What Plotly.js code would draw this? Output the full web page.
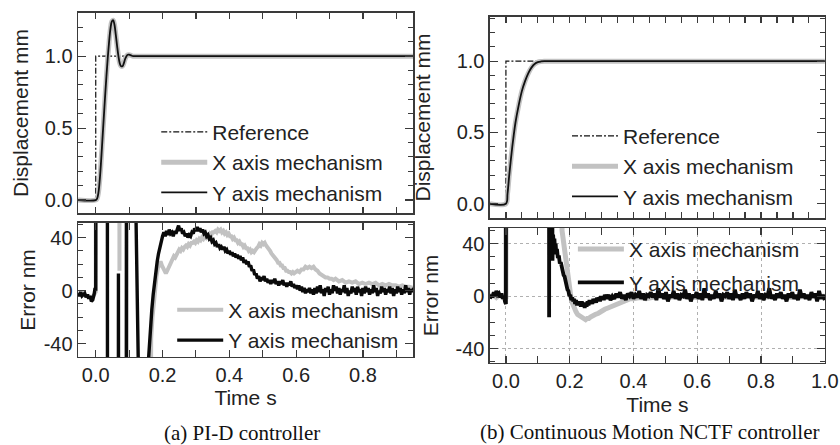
<!DOCTYPE html>
<html>
<head>
<meta charset="utf-8">
<script src="https://cdn.plot.ly/plotly-3.0.1.min.js"></script>
<style>
html,body{margin:0;padding:0;background:#fff;}
#chart{width:840px;height:445px;}
</style>
</head>
<body>
<div id="chart"></div>
<script>
// ---------- (a) PI-D controller : displacement ----------
var tRefA = [-0.053, 0.000, 0.000, 0.950];
var yRefA = [0, 0, 1, 1];
var tDispA = [-0.053, 0.000, 0.004, 0.008, 0.012, 0.016, 0.020, 0.024, 0.028, 0.032,
  0.036, 0.040, 0.044, 0.048, 0.052, 0.056, 0.060, 0.064, 0.068, 0.072,
  0.076, 0.080, 0.084, 0.088, 0.092, 0.096, 0.100, 0.106, 0.112, 0.120, 0.950];
var dispAX = [0, 0, 0.01, 0.05, 0.14, 0.27, 0.42, 0.57, 0.72, 0.86,
  0.99, 1.10, 1.19, 1.24, 1.25, 1.22, 1.15, 1.07, 1.00, 0.95,
  0.93, 0.93, 0.95, 0.98, 1.00, 1.01, 1.01, 1.005, 1.0, 1.0, 1.0];
var dispAY = [0, 0, 0.01, 0.05, 0.14, 0.27, 0.42, 0.57, 0.72, 0.86,
  0.99, 1.10, 1.19, 1.24, 1.25, 1.22, 1.15, 1.07, 1.00, 0.95,
  0.93, 0.93, 0.95, 0.98, 1.00, 1.01, 1.01, 1.005, 1.0, 1.0, 1.0];

// ---------- (a) PI-D controller : error ----------
var tErrAX = [-0.053, -0.045, -0.037, -0.029, -0.021, -0.013, -0.005, 0.000,
  0.001, 0.070, 0.071, 0.072, 0.091, 0.093, 0.160,
  0.163, 0.166, 0.170, 0.174, 0.178, 0.182, 0.186, 0.190, 0.194, 0.198,
  0.202, 0.206, 0.210, 0.214, 0.218, 0.222, 0.226, 0.230, 0.234, 0.238,
  0.242, 0.246, 0.250, 0.254, 0.258, 0.262, 0.266, 0.270, 0.274, 0.278,
  0.282, 0.286, 0.290, 0.294, 0.298, 0.302, 0.306, 0.310, 0.314, 0.318,
  0.322, 0.326, 0.330, 0.334, 0.338, 0.342, 0.346, 0.350, 0.354, 0.358,
  0.362, 0.366, 0.370, 0.374, 0.378, 0.382, 0.386, 0.390, 0.394, 0.398,
  0.402, 0.406, 0.410, 0.414, 0.418, 0.422, 0.426, 0.430, 0.434, 0.438,
  0.442, 0.446, 0.450, 0.454, 0.458, 0.462, 0.466, 0.470, 0.474, 0.478,
  0.482, 0.486, 0.490, 0.494, 0.498, 0.502, 0.506, 0.510, 0.514, 0.518,
  0.522, 0.526, 0.530, 0.534, 0.538, 0.542, 0.546, 0.550, 0.554, 0.558,
  0.562, 0.566, 0.570, 0.574, 0.578, 0.582, 0.586, 0.590, 0.594, 0.598,
  0.604, 0.610, 0.616, 0.622, 0.628, 0.634, 0.640, 0.646, 0.652, 0.658,
  0.664, 0.670, 0.676, 0.682, 0.688, 0.694, 0.700, 0.706, 0.712, 0.718,
  0.728, 0.738, 0.748, 0.758, 0.768, 0.778, 0.788, 0.798, 0.808, 0.818,
  0.828, 0.838, 0.848, 0.858, 0.868, 0.878, 0.888, 0.898, 0.908, 0.918,
  0.928, 0.938, 0.952];
var errAX = [-1, -3, -2, -4, -4, -6, -3, -1,
  500, 500, 15, 500, 500, -500, -500,
  -50, -36, -20, -7, 3, 11, 17, 21, 22, 19,
  17, 15, 13, 15, 17, 20, 22, 24, 26, 25,
  28, 29, 31, 30, 32, 31, 33, 34, 33, 35,
  34, 36, 36, 37, 36, 38, 37, 39, 38, 40,
  39, 41, 40, 42, 41, 43, 42, 44, 44, 45,
  44, 46, 45, 46, 44, 45, 43, 44, 42, 43,
  41, 41, 39, 40, 38, 38, 36, 37, 35, 35,
  33, 34, 32, 32, 30, 31, 29, 30, 29, 31,
  32, 33, 35, 34, 36, 35, 36, 34, 33, 31,
  30, 28, 27, 25, 24, 23, 21, 21, 19, 19,
  17, 17, 15, 15, 14, 14, 13, 14, 13, 14,
  15, 14, 16, 16, 18, 17, 18, 17, 18, 16,
  15, 13, 12, 11, 10, 10, 9, 9, 8, 9,
  7, 8, 6, 7, 6, 7, 5, 6, 5, 6,
  5, 6, 4, 5, 4, 5, 4, 4, 3, 4,
  3, 3, 2];
var tErrAY = [-0.053, -0.049, -0.045, -0.041, -0.037, -0.033, -0.029, -0.025, -0.021, -0.017,
  -0.013, -0.009, -0.005, -0.002, 0.000,
  0.001, 0.034, 0.036, 0.067, 0.068, 0.069, 0.091, 0.093, 0.096, 0.155,
  0.158, 0.161, 0.164, 0.168, 0.172, 0.176, 0.180, 0.184, 0.188, 0.192, 0.196, 0.200,
  0.204, 0.208, 0.212, 0.216, 0.220, 0.224, 0.228, 0.232, 0.236, 0.240,
  0.244, 0.248, 0.252, 0.256, 0.260, 0.264, 0.268, 0.272, 0.276, 0.280,
  0.284, 0.288, 0.292, 0.296, 0.300, 0.304, 0.308, 0.312, 0.316, 0.320,
  0.324, 0.328, 0.332, 0.336, 0.340, 0.344, 0.348, 0.352, 0.356, 0.360,
  0.364, 0.368, 0.372, 0.376, 0.380, 0.384, 0.388, 0.392, 0.396, 0.400,
  0.404, 0.408, 0.412, 0.416, 0.420, 0.424, 0.428, 0.432, 0.436, 0.440,
  0.444, 0.448, 0.452, 0.456, 0.460, 0.464, 0.468, 0.472, 0.476, 0.480,
  0.484, 0.488, 0.492, 0.496, 0.500, 0.504, 0.508, 0.512, 0.516, 0.520,
  0.524, 0.528, 0.532, 0.536, 0.540, 0.544, 0.548, 0.552, 0.556, 0.560,
  0.564, 0.568, 0.572, 0.576, 0.580, 0.584, 0.588, 0.592, 0.596, 0.600,
  0.604, 0.608, 0.612, 0.616, 0.620, 0.624, 0.628, 0.632, 0.636, 0.640,
  0.644, 0.648,
  0.652, 0.656, 0.660, 0.664, 0.668, 0.672, 0.676, 0.680, 0.684, 0.688,
  0.692, 0.696, 0.700, 0.704, 0.708, 0.712, 0.716, 0.720, 0.724, 0.728,
  0.732, 0.736, 0.740, 0.744, 0.748, 0.752, 0.756, 0.760, 0.764, 0.768,
  0.772, 0.776, 0.780, 0.784, 0.788, 0.792, 0.796, 0.800, 0.804, 0.808,
  0.812, 0.816, 0.820, 0.824, 0.828, 0.832, 0.836, 0.840, 0.844, 0.848,
  0.852, 0.856, 0.860, 0.864, 0.868, 0.872, 0.876, 0.880, 0.884, 0.888,
  0.892, 0.896, 0.900, 0.904, 0.908, 0.912, 0.916, 0.920, 0.924, 0.928,
  0.932, 0.936, 0.940, 0.944, 0.948, 0.952];
var errAY = [-2, -4, -1, -4, -3, -2, -5, -3, -6, -4,
  -8, -7, -3, 2, 0,
  500, 500, -500, -500, 13, -500, -500, 500, -500, -500,
  -52, -38, -26, -14, -3, 7, 15, 22, 28, 33, 37, 41,
  44, 41, 45, 42, 46, 43, 44, 41, 45, 43,
  46, 49, 45, 47, 43, 44, 41, 43, 40, 42,
  41, 44, 43, 47, 45, 48, 45, 47, 44, 46,
  43, 44, 41, 42, 39, 40, 37, 38, 35, 36,
  33, 35, 32, 33, 31, 33, 30, 31, 28, 30,
  27, 29, 26, 28, 25, 27, 24, 26, 23, 25,
  21, 23, 20, 22, 18, 19, 15, 16, 12, 13,
  9, 11, 7, 10, 8, 11, 7, 9, 6, 8,
  5, 8, 6, 9, 5, 7, 4, 7, 5, 8,
  4, 6, 3, 6, 4, 7, 3, 5, 2, 4,
  1, 4, 0, 3, -1, 2, -2, 1, -1, 2,
  -2, 1,
  -3, 2, -2, 3, -1, 4, -2, 1, -4, 2,
  -1, 3, -3, 1, -2, 4, 0, 3, -2, 2,
  -3, 1, -1, 4, -2, 2, -4, 0, -2, 3,
  -1, 2, -3, 3, -1, 1, -4, 2, -2, 3,
  -1, 2, -3, 1, -2, 4, -1, 2, -4, 0,
  -2, 3, -1, 2, -3, 1, -1, 3, -2, 2,
  -4, 1, -2, 3, -1, 2, -3, 1, -2, 4,
  -1, 2, -3, 1, -1, 2];

// ---------- (b) Continuous Motion NCTF controller : displacement ----------
var tRefB = [-0.05, 0.000, 0.000, 1.0];
var yRefB = [0, 0, 1, 1];
var tDispB = [-0.05, 0.000, 0.005, 0.010, 0.015, 0.020, 0.025, 0.030, 0.040, 0.050,
  0.060, 0.070, 0.080, 0.090, 0.100, 0.110, 0.120, 0.130, 1.0];
var dispBX = [0, 0, 0.07, 0.19, 0.30, 0.40, 0.49, 0.57, 0.69, 0.79,
  0.86, 0.915, 0.955, 0.98, 0.993, 0.998, 1.0, 1.0, 1.0];
var dispBY = [0, 0, 0.07, 0.19, 0.30, 0.40, 0.49, 0.57, 0.69, 0.79,
  0.86, 0.915, 0.955, 0.98, 0.993, 0.998, 1.0, 1.0, 1.0];

// ---------- (b) Continuous Motion NCTF controller : error ----------
var tErrBX = [-0.050, -0.040, -0.030, -0.020, -0.010, 0.000,
  0.001, 0.174, 0.176, 0.180, 0.184, 0.188, 0.192, 0.196, 0.200,
  0.204, 0.208, 0.212, 0.216, 0.220, 0.225, 0.230, 0.235, 0.240, 0.245,
  0.250, 0.255, 0.260, 0.265, 0.270, 0.275, 0.280, 0.290, 0.300, 0.310,
  0.320, 0.330, 0.340, 0.350, 0.360, 0.370, 0.380, 0.390, 0.400, 0.420,
  0.440, 0.460, 0.480, 0.500, 0.550, 0.600, 0.650, 0.700, 0.750, 0.800,
  0.850, 0.900, 0.950, 1.000];
var errBX = [0, 1, -1, 1, 0, -2,
  500, 500, 50, 42, 33, 25, 17, 10, 4,
  -1, -5, -8, -10, -12, -14, -15, -16, -17, -17,
  -18, -17, -17, -16, -15, -15, -14, -13, -11, -10,
  -9, -8, -6, -5, -4, -3, -3, -2, -2, -1,
  -2, -1, 0, -1, 0, -1, 0, -1, 0, -1,
  0, -1, 0, 0];
var tErrBY = [-0.050, -0.046, -0.042, -0.038, -0.034, -0.030, -0.026, -0.022, -0.018, -0.014,
  -0.010, -0.006, -0.003, 0.000,
  0.001, 0.134, 0.1355, 0.137, 0.142,
  0.144, 0.146, 0.148, 0.150, 0.152, 0.154, 0.156, 0.158, 0.160, 0.163,
  0.166, 0.169, 0.172, 0.175, 0.178, 0.181, 0.184, 0.187, 0.190, 0.193,
  0.196, 0.199, 0.202, 0.205, 0.208, 0.211, 0.214, 0.217, 0.220, 0.223,
  0.226, 0.229, 0.232, 0.235, 0.238, 0.241, 0.244, 0.247, 0.250, 0.253,
  0.256, 0.259, 0.262, 0.265, 0.268, 0.271, 0.274, 0.277, 0.280, 0.283,
  0.286, 0.289, 0.292, 0.295, 0.298, 0.301, 0.304, 0.307, 0.310,
  0.316, 0.322, 0.328, 0.334, 0.340, 0.346, 0.352, 0.358, 0.364, 0.370,
  0.376, 0.382, 0.388, 0.394, 0.400, 0.406, 0.412, 0.418, 0.424, 0.430,
  0.436, 0.442, 0.448, 0.454, 0.460, 0.466, 0.472, 0.478, 0.484, 0.490,
  0.496, 0.502, 0.508, 0.514, 0.520, 0.526, 0.532, 0.538, 0.544, 0.550,
  0.556, 0.562, 0.568, 0.574, 0.580, 0.586, 0.592, 0.598, 0.604, 0.610,
  0.616, 0.622, 0.628, 0.634, 0.640, 0.646, 0.652, 0.658, 0.664, 0.670,
  0.676, 0.682, 0.688, 0.694, 0.700, 0.706, 0.712, 0.718, 0.724, 0.730,
  0.736, 0.742, 0.748, 0.754, 0.760, 0.766, 0.772, 0.778, 0.784, 0.790,
  0.796, 0.802, 0.808, 0.814, 0.820, 0.826, 0.832, 0.838, 0.844, 0.850,
  0.856, 0.862, 0.868, 0.874, 0.880, 0.886, 0.892, 0.898, 0.904, 0.910,
  0.916, 0.922, 0.928, 0.934, 0.940, 0.946, 0.952, 0.958, 0.964, 0.970,
  0.976, 0.982, 0.988, 0.994, 1.000];
var errBY = [-2, 1, -1, 3, 0, 4, 1, 2, -1, 2,
  -2, 0, -4, -6,
  500, 500, -16, 500, 500,
  45, 27, 47, 38, 44, 35, 40, 32, 36, 29,
  31, 25, 26, 21, 21, 16, 15, 11, 9, 5,
  4, 0, 1, -3, -1, -4, -2, -6, -3, -7,
  -4, -7, -5, -8, -4, -7, -5, -9, -5, -8,
  -4, -7, -3, -6, -3, -6, -2, -5, -2, -5,
  -1, -4, -1, -4, 0, -3, 0, -3, 1,
  -2, 1, -3, 0, -2, 2, -1, 3, -2, 1,
  -3, 2, 0, 3, -2, 1, -1, 4, -2, 2,
  -3, 1, 0, 3, -1, 2, -3, 6, -1, 2,
  -2, 3, -4, 1, -1, 4, -2, 2, -3, 1,
  0, 5, -2, 2, -4, 1, -1, 3, -2, 2,
  -3, 6, -1, 2, -3, 1, -2, 4, -1, 2,
  -4, 1, 0, 3, -2, 2, -3, 5, -1, 1,
  -3, 2, -2, 3, -1, 2, -4, 1, -1, 4,
  -2, 2, -3, 1, 0, 6, -2, 1, -3, 2,
  -1, 3, -2, 1, -4, 2, -1, 3, -2, 1,
  -3, 5, -1, 2, -2, 1, -3, 3, -1, 2,
  -4, 4, -2, 1, -3];

// ---------- labels ----------
var seriesNames = ['Reference', 'X axis mechanism', 'Y axis mechanism'];
var errTickVals = [-40, 0, 40];
var errTickText = ['-40', '0', '40'];
var captionA = '(a) PI-D controller';
var captionB = '(b) Continuous Motion NCTF controller';

// ---------- styling ----------
var SANS = 'Liberation Sans, Arial, Helvetica, sans-serif';
var SERIF = 'Liberation Serif, Times New Roman, serif';
var INK = '#222';
var FRAME = '#3a3a3a';
var GRAY = '#c2c2c2';

function axis(o) {
  var a = {
    showline: true, linecolor: FRAME, linewidth: 1.5, mirror: 'allticks',
    ticks: 'inside', tickcolor: FRAME, tickwidth: 1.2, ticklen: 7,
    zeroline: false, showgrid: false, fixedrange: true,
    tickfont: {family: SANS, size: 20, color: INK}
  };
  for (var k in o) a[k] = o[k];
  return a;
}
function legend(x, y, gap) {
  return {x: x, y: y, xanchor: 'left', yanchor: 'top', bgcolor: 'rgba(0,0,0,0)',
    borderwidth: 0, font: {family: SANS, size: 21, color: INK}, itemwidth: 46,
    tracegroupgap: gap, traceorder: 'grouped'};
}

var traces = [
  {x: tRefA, y: yRefA, name: seriesNames[0], mode: 'lines', xaxis: 'x', yaxis: 'y', legend: 'legend', legendgroup: 'a0',
   line: {color: '#111', width: 1.2, dash: '6px,2px,2px,2px'}},
  {x: tDispA, y: dispAX, name: seriesNames[1], mode: 'lines', xaxis: 'x', yaxis: 'y', legend: 'legend', legendgroup: 'a1',
   line: {color: GRAY, width: 5, shape: 'spline'}},
  {x: tDispA, y: dispAY, name: seriesNames[2], mode: 'lines', xaxis: 'x', yaxis: 'y', legend: 'legend', legendgroup: 'a2',
   line: {color: '#111', width: 1.8, shape: 'spline'}},

  {x: tErrAX, y: errAX, name: seriesNames[1], mode: 'lines', xaxis: 'x2', yaxis: 'y2', legend: 'legend2', legendgroup: 'b1',
   line: {color: GRAY, width: 4}},
  {x: tErrAY, y: errAY, name: seriesNames[2], mode: 'lines', xaxis: 'x2', yaxis: 'y2', legend: 'legend2', legendgroup: 'b2',
   line: {color: '#0a0a0a', width: 3.4}},

  {x: tRefB, y: yRefB, name: seriesNames[0], mode: 'lines', xaxis: 'x3', yaxis: 'y3', legend: 'legend3', legendgroup: 'c0',
   line: {color: '#111', width: 1.2, dash: '6px,2px,2px,2px'}},
  {x: tDispB, y: dispBX, name: seriesNames[1], mode: 'lines', xaxis: 'x3', yaxis: 'y3', legend: 'legend3', legendgroup: 'c1',
   line: {color: GRAY, width: 5, shape: 'spline'}},
  {x: tDispB, y: dispBY, name: seriesNames[2], mode: 'lines', xaxis: 'x3', yaxis: 'y3', legend: 'legend3', legendgroup: 'c2',
   line: {color: '#111', width: 1.8, shape: 'spline'}},

  {x: tErrBX, y: errBX, name: seriesNames[1], mode: 'lines', xaxis: 'x4', yaxis: 'y4', legend: 'legend4', legendgroup: 'd1',
   line: {color: GRAY, width: 5}},
  {x: tErrBY, y: errBY, name: seriesNames[2], mode: 'lines', xaxis: 'x4', yaxis: 'y4', legend: 'legend4', legendgroup: 'd2',
   line: {color: '#0a0a0a', width: 3.8}}
];

var titleFont = {family: SANS, size: 21, color: INK};

var layout = {
  width: 840, height: 445, autosize: false,
  margin: {l: 0, r: 0, t: 0, b: 0, pad: 0},
  paper_bgcolor: '#fff', plot_bgcolor: '#fff',
  font: {family: SANS, size: 20, color: INK},
  showlegend: true,
  // (a) top
  xaxis: axis({domain: [0.0929, 0.4917], anchor: 'y', range: [-0.053, 0.95], dtick: 0.1, tick0: 0,
    showticklabels: false, ticklen: 6}),
  yaxis: axis({domain: [0.5213, 0.9708], anchor: 'x', range: [-0.09, 1.30], dtick: 0.5, tick0: 0,
    tickformat: '.1f', ticklen: 8, minor: {dtick: 0.1, tick0: 0, ticks: 'inside', ticklen: 5, tickcolor: FRAME, tickwidth: 1},
    title: {text: 'Displacement mm', font: titleFont, standoff: 10}}),
  // (a) bottom
  xaxis2: axis({domain: [0.0929, 0.4917], anchor: 'y2', range: [-0.053, 0.95], dtick: 0.2, tick0: 0,
    tickformat: '.1f', ticklen: 7, minor: {dtick: 0.1, tick0: 0, ticks: 'inside', ticklen: 7, tickcolor: FRAME, tickwidth: 1},
    title: {text: 'Time s', font: titleFont, standoff: 2}}),
  yaxis2: axis({domain: [0.1978, 0.4989], anchor: 'x2', range: [-50, 51], tickmode: 'array',
    tickvals: errTickVals, ticktext: errTickText, ticklen: 8,
    minor: {tickmode: 'linear', dtick: 10, tick0: 0, ticks: 'inside', ticklen: 5, tickcolor: FRAME, tickwidth: 1},
    title: {text: 'Error nm', font: titleFont, standoff: 2}}),
  // (b) top
  xaxis3: axis({domain: [0.5833, 0.9821], anchor: 'y3', range: [-0.05, 1.0005], dtick: 0.05, tick0: 0,
    showticklabels: false, ticklen: 6}),
  yaxis3: axis({domain: [0.5101, 0.9618], anchor: 'x3', range: [-0.10, 1.31], dtick: 0.5, tick0: 0,
    tickformat: '.1f', ticklen: 8, minor: {dtick: 0.1, tick0: 0, ticks: 'inside', ticklen: 5, tickcolor: FRAME, tickwidth: 1},
    title: {text: 'Displacement mm', font: titleFont, standoff: 20}}),
  // (b) bottom
  xaxis4: axis({domain: [0.5833, 0.9821], anchor: 'y4', range: [-0.05, 1.0005], dtick: 0.2, tick0: 0,
    tickformat: '.1f', ticklen: 7, showgrid: true, gridcolor: '#b0b0b0', griddash: 'dot', gridwidth: 1,
    minor: {dtick: 0.1, tick0: 0, ticks: 'inside', ticklen: 7, tickcolor: FRAME, tickwidth: 1},
    title: {text: 'Time s', font: titleFont, standoff: 6}}),
  yaxis4: axis({domain: [0.1843, 0.4876], anchor: 'x4', range: [-51, 52], tickmode: 'array',
    tickvals: errTickVals, ticktext: errTickText, ticklen: 8, showgrid: true, gridcolor: '#b0b0b0', griddash: 'dot', gridwidth: 1,
    minor: {tickmode: 'linear', dtick: 10, tick0: 0, ticks: 'inside', ticklen: 5, tickcolor: FRAME, tickwidth: 1},
    title: {text: 'Error nm', font: titleFont, standoff: 11}}),
  legend: legend(0.186, 0.749, 0),
  legend2: legend(0.205, 0.349, 0),
  legend3: legend(0.675, 0.740, 0),
  legend4: legend(0.682, 0.4855, 3),
  annotations: [
    {xref: 'paper', yref: 'paper', x: 0.288, y: 0.027, xanchor: 'center', yanchor: 'middle', showarrow: false,
     text: captionA, font: {family: SERIF, size: 21, color: '#111'}},
    {xref: 'paper', yref: 'paper', x: 0.774, y: 0.030, xanchor: 'center', yanchor: 'middle', showarrow: false,
     text: captionB, font: {family: SERIF, size: 21, color: '#111'}}
  ]
};

Plotly.newPlot('chart', traces, layout, {staticPlot: true, displayModeBar: false});
</script>
</body>
</html>
